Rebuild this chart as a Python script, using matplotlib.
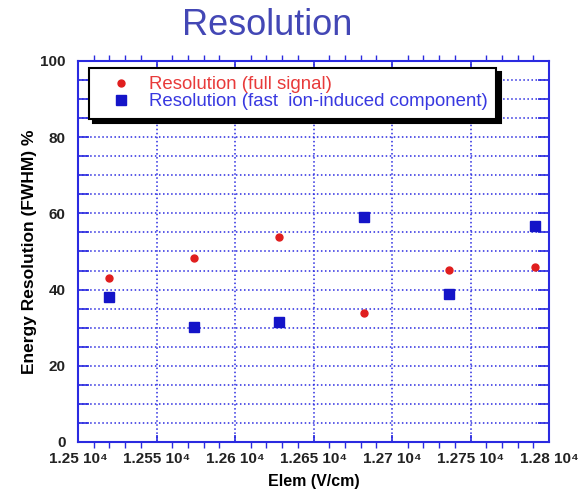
import matplotlib.pyplot as plt
from matplotlib.ticker import MultipleLocator, FixedLocator

plt.rcParams['font.family'] = ['Liberation Sans', 'DejaVu Sans']

field = [12520, 12574, 12628, 12682, 12736, 12791]
res_full = [43.1, 48.2, 53.9, 33.9, 45.1, 45.8]
res_fast = [38.1, 30.3, 31.4, 59.1, 38.8, 56.8]

xticks = [12500, 12550, 12600, 12650, 12700, 12750, 12800]
xtick_labels = ["1.25 10⁴", "1.255 10⁴", "1.26 10⁴", "1.265 10⁴",
                "1.27 10⁴", "1.275 10⁴", "1.28 10⁴"]

grid_blue = '#2a2ae0'

fig = plt.figure(figsize=(5.81, 4.91), dpi=100, facecolor='white')
ax = fig.add_axes([0.1343, 0.0998, 0.8107, 0.776])

ax.plot(field, res_full, 'o', color='#e01e1e', markersize=5,
        label='Resolution (full signal)', zorder=5)
ax.plot(field, res_fast, 's', color='#1414c8', markersize=7.5,
        label='Resolution (fast  ion-induced component)', zorder=5)

ax.set_xlim(12500, 12800)
ax.set_ylim(0, 100)

ax.xaxis.set_major_locator(FixedLocator(xticks))
ax.set_xticklabels(xtick_labels)
ax.xaxis.set_minor_locator(MultipleLocator(10))
ax.yaxis.set_major_locator(MultipleLocator(20))
ax.yaxis.set_minor_locator(MultipleLocator(5))

ax.grid(True, which='major', axis='both', color=grid_blue, linestyle=':', linewidth=1.1)
ax.grid(True, which='minor', axis='y', color=grid_blue, linestyle=':', linewidth=1.1)

for spine in ax.spines.values():
    spine.set_color(grid_blue)
    spine.set_linewidth(1.5)

ax.tick_params(axis='y', which='both', direction='in', left=True, right=True,
               color=grid_blue, width=1.2)
ax.tick_params(axis='y', which='major', length=8, pad=9)
ax.tick_params(axis='y', which='minor', length=8)
ax.tick_params(axis='x', which='major', direction='in', top=True, bottom=True,
               length=5, color=grid_blue, width=1.2, pad=7)
ax.tick_params(axis='x', which='minor', direction='out', top=True, bottom=True,
               length=4, color=grid_blue, width=1.0)
for lab in ax.get_xticklabels() + ax.get_yticklabels():
    lab.set_fontweight('bold')
    lab.set_fontsize(11)
    lab.set_color('#222222')

ax.set_xlabel('Elem (V/cm)', fontsize=11.5, fontweight='bold', labelpad=6)
ax.set_ylabel('Energy Resolution (FWHM) %', fontsize=12.5, fontweight='bold', labelpad=2)

leg = ax.legend(loc='upper left', bbox_to_anchor=(0.023, 0.982), borderaxespad=0,
                fontsize=13.4, fancybox=False, framealpha=1, edgecolor='black',
                handlelength=2.5, handletextpad=0.3, labelspacing=0.0,
                borderpad=0.45,
                shadow={'ox': 3, 'oy': -3, 'color': 'black', 'alpha': 1})
leg.get_frame().set_linewidth(1.5)
leg.texts[0].set_color('#e83a3a')
leg.texts[1].set_color('#3838e0')

fig.text(0.46, 0.948, 'Resolution', fontsize=26, color='#4347b5',
         ha='center', va='center')

fig.savefig('out.png', dpi=100)
